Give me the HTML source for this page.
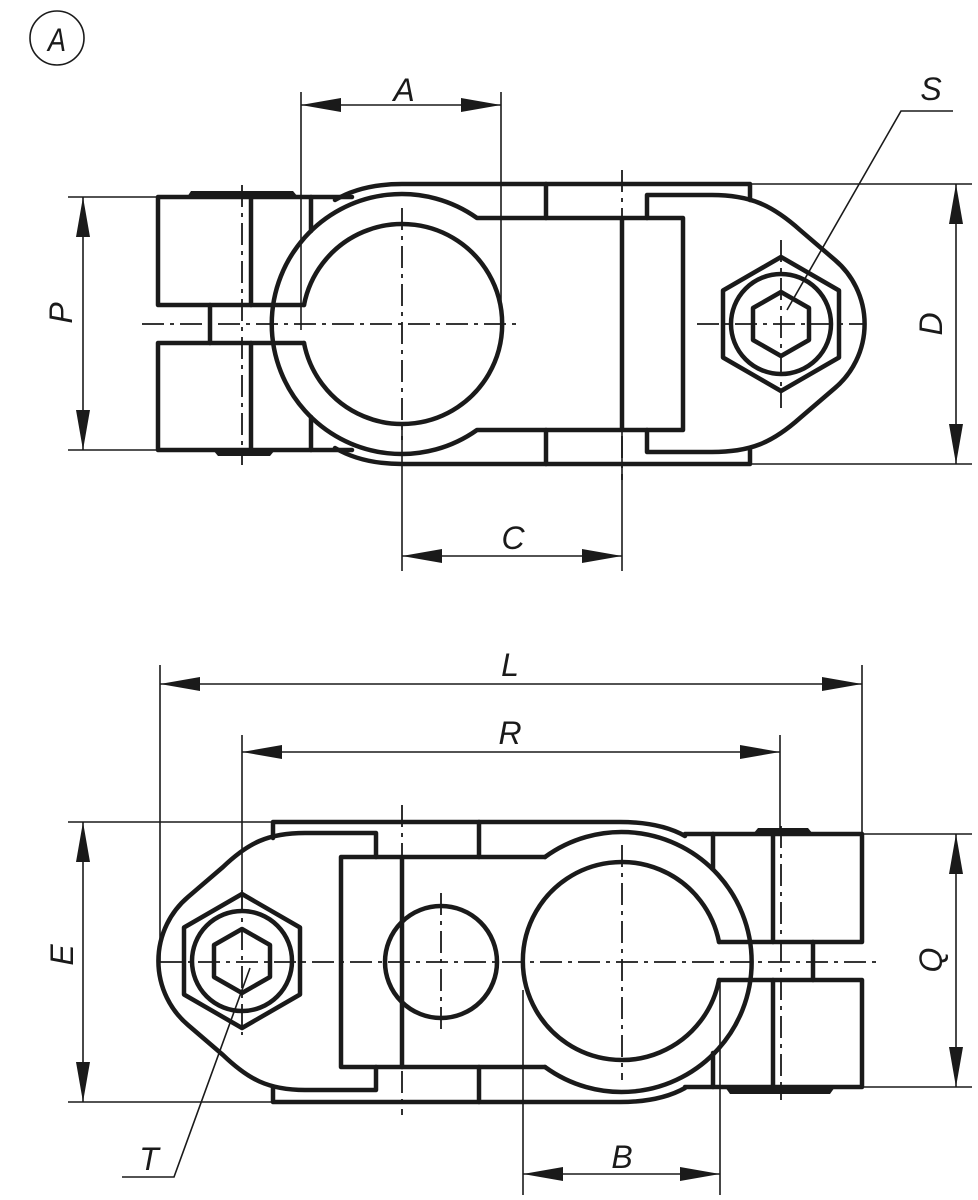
<!DOCTYPE html>
<html><head><meta charset="utf-8"><style>
html,body{margin:0;padding:0;background:#fff;}
svg{display:block}
text{font-family:"Liberation Sans",sans-serif;font-style:italic;font-size:32px;fill:#1a1a1a;}
.k{stroke:#1a1a1a;stroke-width:4.5;fill:none;stroke-linejoin:round;stroke-linecap:round}
.t{stroke:#1a1a1a;stroke-width:1.6;fill:none}
.c{stroke:#1a1a1a;stroke-width:1.8;fill:none;stroke-dasharray:22,6,4,6}
.a{fill:#1a1a1a;stroke:none}
</style></head><body>
<svg width="978" height="1200" viewBox="0 0 978 1200" xmlns="http://www.w3.org/2000/svg">
<circle cx="57" cy="38" r="27" class="t" stroke-width="2.2"/>
<text x="57" y="51" text-anchor="middle" transform="translate(57,0) scale(0.85,1) translate(-57,0)">A</text>

<!-- ===== TOP VIEW ===== -->
<line x1="142" y1="324" x2="518" y2="324" class="c"/>
<line x1="402" y1="208" x2="402" y2="440" class="c"/>
<line x1="622" y1="170" x2="622" y2="480" class="c"/>
<line x1="242" y1="185" x2="242" y2="465" class="c"/>
<line x1="697" y1="324" x2="866" y2="324" class="c"/>
<line x1="781" y1="240" x2="781" y2="408" class="c"/>
<path class="k" d="M335,200 Q362,184 402,184 H750 V200"/>
<path class="k" d="M335,448 Q362,464 402,464 H750 V448"/>
<path class="k" d="M683,218 H477 A130,130 0 1 0 477,430 H683 Z"/>
<line x1="622" y1="218" x2="622" y2="430" class="k"/>
<line x1="546" y1="184" x2="546" y2="218" class="k"/>
<line x1="546" y1="464" x2="546" y2="430" class="k"/>
<path class="k" d="M304,305 A100,100 0 1 1 304,343"/>
<path class="k" d="M304,305 H158 V197 H352"/>
<path class="k" d="M304,343 H158 V450 H352"/>
<line x1="311" y1="197" x2="311" y2="231" class="k"/>
<line x1="311" y1="450" x2="311" y2="417" class="k"/>
<line x1="251" y1="197" x2="251" y2="305" class="k"/>
<line x1="251" y1="343" x2="251" y2="450" class="k"/>
<line x1="210" y1="305" x2="210" y2="343" class="k"/>
<path class="a" d="M187,197 L191,191 H293 L298,197 Z"/>
<path class="a" d="M213,450 L218,456 H270 L275,450 Z"/>
<path class="k" d="M647,218 V195 H712 C750,195 772,205 800,230 L835,260 A84,84 0 0 1 835,388 L800,418 C772,443 750,452 712,452 H647 V430"/>
<polygon class="k" points="781,257 839,290.5 839,357.5 781,391 723,357.5 723,290.5"/>
<circle cx="781" cy="324" r="50" class="k" stroke-width="7"/>
<polygon class="k" points="781,292 809,308 809,340 781,356 753,340 753,308" stroke-width="3.5"/>
<line x1="301" y1="92" x2="301" y2="330" class="t"/>
<line x1="501" y1="92" x2="501" y2="330" class="t"/>
<line x1="301" y1="105" x2="501" y2="105" class="t"/>
<path class="a" d="M301,105 L341,98 V112 Z M501,105 L461,98 V112 Z"/>
<text x="404" y="101" text-anchor="middle">A</text>

<line x1="68" y1="197" x2="158" y2="197" class="t"/>
<line x1="68" y1="450" x2="158" y2="450" class="t"/>
<line x1="83" y1="197" x2="83" y2="450" class="t"/>
<path class="a" d="M83,197 L76,237 H90 Z M83,450 L76,410 H90 Z"/>
<text transform="translate(72,313) rotate(-90)" text-anchor="middle">P</text>

<line x1="750" y1="184" x2="972" y2="184" class="t"/>
<line x1="750" y1="464" x2="972" y2="464" class="t"/>
<line x1="956" y1="184" x2="956" y2="464" class="t"/>
<path class="a" d="M956,184 L949,224 H963 Z M956,464 L949,424 H963 Z"/>
<text transform="translate(942,324) rotate(-90)" text-anchor="middle">D</text>

<line x1="402" y1="430" x2="402" y2="571" class="t"/>
<line x1="622" y1="430" x2="622" y2="571" class="t"/>
<line x1="402" y1="556" x2="622" y2="556" class="t"/>
<path class="a" d="M402,556 L442,549 V563 Z M622,556 L582,549 V563 Z"/>
<text x="513" y="549" text-anchor="middle">C</text>

<polyline points="787,310 901,111 953,111" class="t" stroke-width="2"/>
<text x="931" y="100" text-anchor="middle">S</text>

<!-- ===== BOTTOM VIEW ===== -->
<line x1="160" y1="962" x2="880" y2="962" class="c"/>
<line x1="402" y1="805" x2="402" y2="1115" class="c"/>
<line x1="622" y1="845" x2="622" y2="1080" class="c"/>
<line x1="441" y1="893" x2="441" y2="1030" class="c"/>
<line x1="781" y1="826" x2="781" y2="1100" class="c"/>
<line x1="242" y1="890" x2="242" y2="1035" class="c"/>
<path class="k" d="M273,838 V822 H620 Q660,822 685,836"/>
<path class="k" d="M273,1087 V1102 H620 Q660,1102 685,1088"/>
<line x1="479" y1="822" x2="479" y2="857" class="k"/>
<line x1="479" y1="1102" x2="479" y2="1067" class="k"/>
<path class="k" d="M545,857 H341 V1067 H545"/>
<path class="k" d="M545,857 A130,130 0 1 1 545,1067"/>
<line x1="402" y1="857" x2="402" y2="1067" class="k"/>
<circle cx="441" cy="962" r="56" class="k"/>
<path class="k" d="M719,942 A99,99 0 1 0 719,980"/>
<path class="k" d="M719,942 H862 V834 H685"/>
<path class="k" d="M719,980 H862 V1087 H685"/>
<line x1="713" y1="834" x2="713" y2="869" class="k"/>
<line x1="713" y1="1087" x2="713" y2="1053" class="k"/>
<line x1="773" y1="834" x2="773" y2="942" class="k"/>
<line x1="773" y1="980" x2="773" y2="1087" class="k"/>
<line x1="813" y1="942" x2="813" y2="980" class="k"/>
<path class="a" d="M753,834 L758,828 H808 L813,834 Z"/>
<path class="a" d="M725,1087 L730,1094 H830 L835,1087 Z"/>
<path class="k" d="M376,857 V833 H305 C268,833 248,843 223,867 L188,897 A84,84 0 0 0 188,1025 L223,1055 C248,1079 268,1090 305,1090 H376 V1067"/>
<polygon class="k" points="242,894 300,927.5 300,994.5 242,1028 184,994.5 184,927.5"/>
<circle cx="242" cy="961" r="50" class="k" stroke-width="7"/>
<polygon class="k" points="242,929 270,945 270,977 242,993 214,977 214,945" stroke-width="3.5"/>
<line x1="160" y1="665" x2="160" y2="962" class="t"/>
<line x1="862" y1="665" x2="862" y2="834" class="t"/>
<line x1="160" y1="684" x2="862" y2="684" class="t"/>
<path class="a" d="M160,684 L200,677 V691 Z M862,684 L822,677 V691 Z"/>
<text x="510" y="676" text-anchor="middle">L</text>

<line x1="242" y1="735" x2="242" y2="900" class="t"/>
<line x1="780" y1="735" x2="780" y2="834" class="t"/>
<line x1="242" y1="752" x2="780" y2="752" class="t"/>
<path class="a" d="M242,752 L282,745 V759 Z M780,752 L740,745 V759 Z"/>
<text x="510" y="744" text-anchor="middle">R</text>

<line x1="68" y1="822" x2="273" y2="822" class="t"/>
<line x1="68" y1="1102" x2="273" y2="1102" class="t"/>
<line x1="83" y1="822" x2="83" y2="1102" class="t"/>
<path class="a" d="M83,822 L76,862 H90 Z M83,1102 L76,1062 H90 Z"/>
<text transform="translate(73,955) rotate(-90)" text-anchor="middle">E</text>

<line x1="862" y1="834" x2="972" y2="834" class="t"/>
<line x1="862" y1="1087" x2="972" y2="1087" class="t"/>
<line x1="956" y1="834" x2="956" y2="1087" class="t"/>
<path class="a" d="M956,834 L949,874 H963 Z M956,1087 L949,1047 H963 Z"/>
<text transform="translate(942,960) rotate(-90)" text-anchor="middle">Q</text>

<line x1="523" y1="990" x2="523" y2="1195" class="t"/>
<line x1="720" y1="980" x2="720" y2="1195" class="t"/>
<line x1="523" y1="1174" x2="720" y2="1174" class="t"/>
<path class="a" d="M523,1174 L563,1167 V1181 Z M720,1174 L680,1167 V1181 Z"/>
<text x="622" y="1168" text-anchor="middle">B</text>

<polyline points="250,968 174,1177 122,1177" class="t" stroke-width="2"/>
<text x="149" y="1170" text-anchor="middle">T</text>
</svg>
</body></html>
